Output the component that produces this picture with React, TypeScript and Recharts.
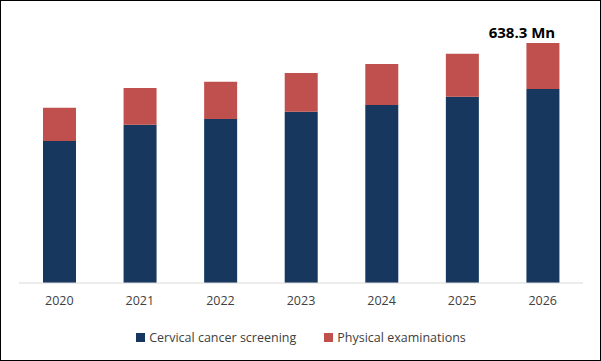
import { BarChart, Bar, XAxis, YAxis, Legend, LabelList } from 'recharts'

const years = ['2020', '2021', '2022', '2023', '2024', '2025', '2026']
const screening = [377.7, 421.0, 436.2, 455.6, 473.4, 495.5, 516.0]
const physical = [88.5, 97.6, 99.2, 102.9, 109.1, 114.4, 122.3]
const totalLabels = ['', '', '', '', '', '', '638.3 Mn']

const data = years.map((year, i) => ({
  year,
  screening: screening[i],
  physical: physical[i],
  label: totalLabels[i],
}))

const FONT = '"Open Sans", sans-serif'
const NAVY = '#17375e'
const RED = '#c0504d'

const legendItems = [
  { name: 'Cervical cancer screening', color: NAVY },
  { name: 'Physical examinations', color: RED },
]

function LegendBox() {
  return (
    <div style={{ display: 'flex', justifyContent: 'center', gap: 28, fontFamily: FONT, fontSize: 12.5, color: '#404040' }}>
      {legendItems.map(item => (
        <span key={item.name} style={{ display: 'flex', alignItems: 'center' }}>
          <span style={{ width: 9, height: 9, background: item.color, marginRight: 4, display: 'inline-block' }} />
          {item.name}
        </span>
      ))}
    </div>
  )
}

const TotalLabel = (props: any) => {
  const { x, y, width, value } = props
  if (!value) return null
  return (
    <text x={x + width / 2 - 21} y={y - 5} textAnchor="middle" fontFamily={FONT} fontSize={15} fontWeight={700} fill="#000">
      {value}
    </text>
  )
}

export default function App() {
  return (
    <div style={{ position: 'absolute', left: 0, top: 0, width: 601, height: 361, border: '1px solid #000', boxSizing: 'border-box', background: '#fff' }}>
      <BarChart
        width={599}
        height={359}
        data={data}
        margin={{ top: 42, right: 17, left: 18, bottom: 14 }}
        barSize={33}
      >
        <XAxis
          dataKey="year"
          axisLine={{ stroke: '#d9d9d9' }}
          tickLine={false}
          tickMargin={7}
          tick={{ fontFamily: FONT, fontSize: 12.5, fill: '#404040' }}
          height={46}
        />
        <YAxis hide domain={[0, 638.3]} />
        <Legend content={<LegendBox />} verticalAlign="bottom" />
        <Bar dataKey="screening" stackId="a" fill={NAVY} isAnimationActive={false} />
        <Bar dataKey="physical" stackId="a" fill={RED} isAnimationActive={false}>
          <LabelList dataKey="label" content={<TotalLabel />} />
        </Bar>
      </BarChart>
    </div>
  )
}
